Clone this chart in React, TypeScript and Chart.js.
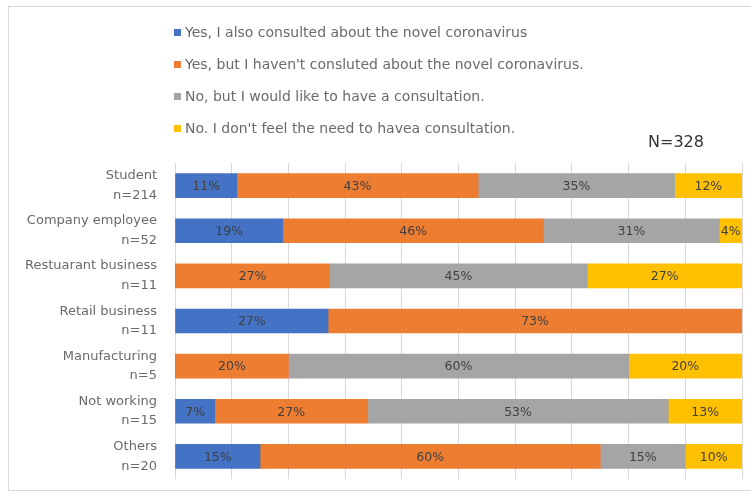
import React, { useEffect, useRef } from "react";
import { Chart, registerables } from "chart.js";

Chart.register(...registerables);

const categories: string[][] = [
  ["Student", "n=214"],
  ["Company employee", "n=52"],
  ["Restuarant business", "n=11"],
  ["Retail business", "n=11"],
  ["Manufacturing", "n=5"],
  ["Not working", "n=15"],
  ["Others", "n=20"],
];

const seriesNames = [
  "Yes, I also consulted about the novel coronavirus",
  "Yes, but I haven't consluted about the novel coronavirus.",
  "No, but I would like to have a consultation.",
  "No. I don't feel the need to havea consultation.",
];

const consultedCovid = [11, 19, 0, 27, 0, 7, 15];
const consultedOther = [43, 46, 27, 73, 20, 27, 60];
const wouldLike = [35, 31, 45, 0, 60, 53, 15];
const noNeed = [12, 4, 27, 0, 20, 13, 10];

const colors = ["#4472C4", "#ED7D31", "#A5A5A5", "#FFC000"];
const totalLabel = "N=328";

const FONT = "'DejaVu Sans', sans-serif";

export default function App() {
  const ref = useRef<HTMLCanvasElement | null>(null);

  useEffect(() => {
    document.body.style.margin = "0";
    const raw = [consultedCovid, consultedOther, wouldLike, noNeed];
    const sums = categories.map((_, i) => raw.reduce((s, arr) => s + arr[i], 0));
    const norm = raw.map((arr) => arr.map((v, i) => (v / sums[i]) * 100));

    const decorPlugin = {
      id: "decor",
      beforeDraw(chart: any) {
        const ctx = chart.ctx;
        ctx.save();
        ctx.fillStyle = "#ffffff";
        ctx.fillRect(0, 0, chart.width, chart.height);
        ctx.strokeStyle = "#d9d9d9";
        ctx.lineWidth = 1;
        ctx.strokeRect(8.5, 6.5, 760, 484);
        ctx.restore();
      },
      afterDatasetsDraw(chart: any) {
        const ctx = chart.ctx;
        ctx.save();
        ctx.font = `12.5px ${FONT}`;
        ctx.fillStyle = "#404040";
        ctx.textAlign = "center";
        ctx.textBaseline = "middle";
        chart.data.datasets.forEach((ds: any, di: number) => {
          const meta = chart.getDatasetMeta(di);
          meta.data.forEach((el: any, i: number) => {
            const v = raw[di][i];
            if (!v) return;
            const p = el.getProps(["x", "y", "base"], true);
            ctx.fillText(`${v}%`, (p.x + p.base) / 2, p.y + 1);
          });
        });
        ctx.restore();
      },
      afterDraw(chart: any) {
        const ctx = chart.ctx;
        ctx.save();
        ctx.font = `14px ${FONT}`;
        ctx.textBaseline = "middle";
        ctx.textAlign = "left";
        chart.data.datasets.forEach((ds: any, di: number) => {
          const y = 33 + di * 32;
          ctx.fillStyle = colors[di];
          ctx.fillRect(174, y - 4, 7, 7);
          ctx.fillStyle = "#6a6a6a";
          ctx.fillText(ds.label, 185, y);
        });
        ctx.font = `16px ${FONT}`;
        ctx.fillStyle = "#333333";
        ctx.textAlign = "center";
        ctx.fillText(totalLabel, 676, 143);
        ctx.restore();
      },
    };

    const chart = new Chart(ref.current as HTMLCanvasElement, {
      type: "bar",
      data: {
        labels: categories,
        datasets: seriesNames.map((name, di) => ({
          label: name,
          data: norm[di],
          backgroundColor: colors[di],
          borderWidth: 0,
          barThickness: 24,
        })),
      },
      options: {
        indexAxis: "y",
        responsive: false,
        animation: false,
        layout: { padding: { top: 163, right: 9, bottom: 17, left: 0 } },
        plugins: {
          legend: { display: false },
          tooltip: { enabled: false },
        },
        scales: {
          x: {
            stacked: true,
            min: 0,
            max: 100,
            ticks: { display: false, stepSize: 10 },
            grid: { color: "#d9d9d9", drawTicks: false },
            border: { display: false },
          },
          y: {
            stacked: true,
            grid: { display: false },
            border: { display: false },
            ticks: {
              color: "#6a6a6a",
              font: { family: FONT, size: 13, lineHeight: 1.5 },
              padding: 10,
            },
            afterFit(scale: any) {
              scale.width = 175;
              scale.paddingTop = 0;
              scale.paddingBottom = 0;
            },
          },
        },
      },
      plugins: [decorPlugin],
    } as any);
    return () => chart.destroy();
  }, []);

  return (
    <div style={{ width: 751, height: 496 }}>
      <canvas ref={ref} width={751} height={496} style={{ display: "block" }} />
    </div>
  );
}
